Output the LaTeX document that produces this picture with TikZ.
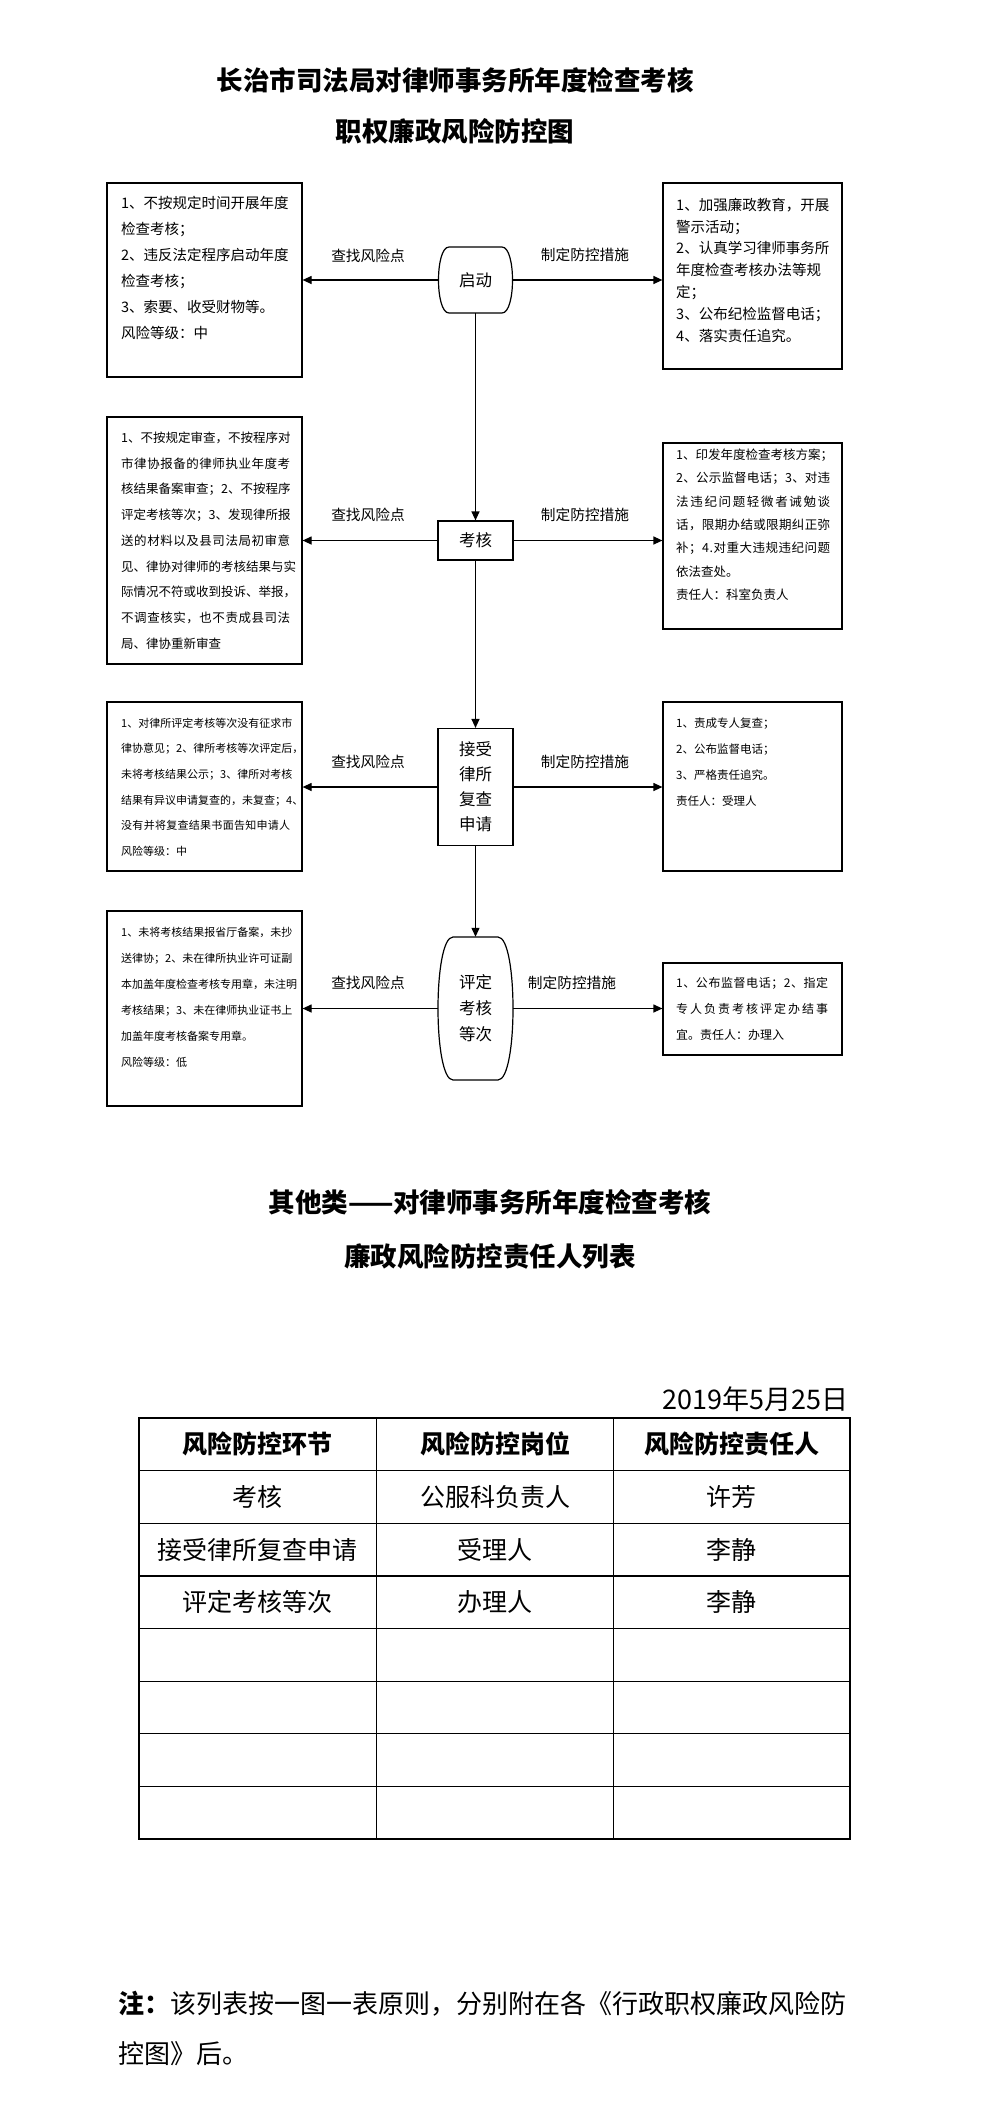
\documentclass[tikz,border=0pt]{standalone}
\usepackage{fontspec}
\setmainfont{Noto Sans CJK SC}
\usetikzlibrary{arrows.meta}
\def\sprdA#1{#1\sprdB}
\def\sprdB#1{\ifx\relax#1\else\hfil#1\expandafter\sprdB\fi}
\newcommand\jl[2]{\leavevmode\hbox to #1{\sprdA#2\relax}}
\newcommand\myfs[2]{\fontsize{#1}{#2}\selectfont}
\tikzset{
  box/.style={draw, line width=1.2pt, inner sep=0pt, minimum width=#1},
  flowline/.style={line width=1.2pt},
  arr/.style={line width=1.2pt, -{Triangle[length=9pt,width=8pt]}},
  txtbox/.style={anchor=north west, inner sep=0pt, align=left},
  lbl/.style={inner sep=0pt, font=\myfs{14.7}{18}},
  flowtext/.style={inner sep=0pt, align=center, font=\myfs{16.5}{25}},
  title/.style={inner sep=0pt, font=\myfs{26.5}{30}\bfseries},
  cell/.style={inner sep=0pt, font=\myfs{25}{28}},
  hcell/.style={inner sep=0pt, font=\myfs{25}{28}\bfseries},
}
\begin{document}
\begin{tikzpicture}[x=1pt,y=-1pt]
\useasboundingbox[fill=white] (0,0) rectangle (993,2101);

% titles
\node[title] (t1) at (455,80) {长治市司法局对律师事务所年度检查考核};
\node[title] (t2) at (455,131) {职权廉政风险防控图};

% left boxes
\node[box=195pt, minimum height=194pt] (L1) at (204.5,280) {};
\node[box=195pt, minimum height=247pt] (L2) at (204.5,540.5) {};
\node[box=195pt, minimum height=169pt] (L3) at (204.5,786.5) {};
\node[box=195pt, minimum height=195pt] (L4) at (204.5,1008.5) {};
% right boxes
\node[box=179pt, minimum height=186pt] (R1) at (752.5,276) {};
\node[box=179pt, minimum height=186pt] (R2) at (752.5,536) {};
\node[box=179pt, minimum height=169pt] (R3) at (752.5,786.5) {};
\node[box=179pt, minimum height=92pt] (R4) at (752.5,1009) {};

% box texts
\node[txtbox, text width=175pt, font=\myfs{14.5}{26}] (L1t) at (121,195.75) {1、不按规定时间开展年度\\检查考核；\\2、违反法定程序启动年度\\检查考核；\\3、索要、收受财物等。\\风险等级：中};
\node[txtbox, text width=160pt, font=\myfs{14.5}{21.8}] (R1t) at (676,197.75) {1、加强廉政教育，开展\\警示活动；\\2、认真学习律师事务所\\年度检查考核办法等规\\定；\\3、公布纪检监督电话；\\4、落实责任追究。};
\node[txtbox, text width=175pt, font=\myfs{12.5}{25.7}] (L2t) at (121,431.75) {\jl{169pt}{1、不按规定审查，不按程序对}\\\jl{169pt}{市律协报备的律师执业年度考}\\\jl{169pt}{核结果备案审查；2、不按程序}\\\jl{169pt}{评定考核等次；3、发现律所报}\\\jl{169pt}{送的材料以及县司法局初审意}\\\jl{169pt}{见、律协对律师的考核结果与实}\\\jl{169pt}{际情况不符或收到投诉、举报，}\\\jl{169pt}{不调查核实，也不责成县司法}\\局、律协重新审查};
\node[txtbox, text width=160pt, font=\myfs{12.5}{23.3}] (R2t) at (676,448.75) {\jl{154pt}{1、印发年度检查考核方案；}\\\jl{154pt}{2、公示监督电话；3、对违}\\\jl{154pt}{法违纪问题轻微者诫勉谈}\\\jl{154pt}{话，限期办结或限期纠正弥}\\\jl{154pt}{补；4.对重大违规违纪问题}\\依法查处。\\责任人：科室负责人};
\node[txtbox, text width=175pt, font=\myfs{11}{25.7}] (L3t) at (121,717.5) {\jl{169pt}{1、对律所评定考核等次没有征求市}\\\jl{169pt}{律协意见；2、律所考核等次评定后，}\\\jl{169pt}{未将考核结果公示；3、律所对考核}\\\jl{169pt}{结果有异议申请复查的，未复查；4、}\\\jl{169pt}{没有并将复查结果书面告知申请人}\\风险等级：中};
\node[txtbox, text width=160pt, font=\myfs{11.5}{26}] (R3t) at (676,717.25) {1、责成专人复查；\\2、公布监督电话；\\3、严格责任追究。\\责任人：受理人};
\node[txtbox, text width=175pt, font=\myfs{11}{26}] (L4t) at (121,926.5) {\jl{169pt}{1、未将考核结果报省厅备案，未抄}\\\jl{169pt}{送律协；2、未在律所执业许可证副}\\\jl{169pt}{本加盖年度检查考核专用章，未注明}\\\jl{169pt}{考核结果；3、未在律师执业证书上}\\加盖年度考核备案专用章。\\风险等级：低};
\node[txtbox, text width=160pt, font=\myfs{12}{26}] (R4t) at (676,977) {\jl{152pt}{1、公布监督电话；2、指定}\\\jl{152pt}{专人负责考核评定办结事}\\宜。责任人：办理入};

% flow nodes
\node[flowtext, minimum width=75pt, minimum height=66pt] (start) at (475.5,280) {启动};
\draw[flowline] (449,247) -- (502,247) .. controls (516,247) and (516,313) .. (502,313) -- (449,313) .. controls (435,313) and (435,247) .. (449,247) -- cycle;
\node[flowtext, draw, line width=1.2pt, minimum width=75pt, minimum height=39pt] (kh) at (475.5,540.5) {考核};
\node[flowtext, draw, line width=1.2pt, minimum width=75pt, minimum height=117pt] (js) at (475.5,787) {接受\\律所\\复查\\申请};
\node[flowtext, minimum width=75pt, minimum height=143pt, font=\myfs{16.5}{26}] (pd) at (475.5,1008.5) {评定\\考核\\等次};
\draw[flowline] (453,937) -- (498,937) .. controls (518,937) and (518,1080) .. (498,1080) -- (453,1080) .. controls (433,1080) and (433,937) .. (453,937) -- cycle;

% connectors
\draw[arr] (start.south) -- (kh.north);
\draw[arr] (kh.south) -- (js.north);
\draw[arr] (js.south) -- (pd.north);

\draw[arr] (start.west) -- (start.west -| L1.east);
\draw[arr] (start.east) -- (start.east -| R1.west);
\draw[arr] (kh.west) -- (kh.west -| L2.east);
\draw[arr] (kh.east) -- (kh.east -| R2.west);
\draw[arr] (js.west) -- (js.west -| L3.east);
\draw[arr] (js.east) -- (js.east -| R3.west);
\draw[arr] (pd.west) -- (pd.west -| L4.east);
\draw[arr] (pd.east) -- (pd.east -| R4.west);

% labels
\node[lbl] (a1) at (368,256) {查找风险点};
\node[lbl] (b1) at (585,255) {制定防控措施};
\node[lbl] (a2) at (368,515) {查找风险点};
\node[lbl] (b2) at (585,515) {制定防控措施};
\node[lbl] (a3) at (368,762) {查找风险点};
\node[lbl] (b3) at (585,762) {制定防控措施};
\node[lbl] (a4) at (368,983) {查找风险点};
\node[lbl] (b4) at (572,983) {制定防控措施};

% second part
\node[title] (t3) at (490,1202) {其他类——对律师事务所年度检查考核};
\node[title] (t4) at (490,1256) {廉政风险防控责任人列表};
\node[inner sep=0pt, anchor=east, font=\myfs{27}{30}] (date) at (849,1399) {2019年5月25日};

% table grid
\draw[line width=1.3pt] (139,1418) rectangle (850,1839);
\foreach \yy in {1470.6,1523.3,1575.9,1628.5,1681.2,1733.8,1786.4} {
  \draw[line width=1.2pt] (139,\yy) -- (850,\yy);
}
\draw[line width=1.2pt] (376.5,1418) -- (376.5,1839);
\draw[line width=1.2pt] (613.7,1418) -- (613.7,1839);

\node[hcell] (h1) at (257.8,1444.3) {风险防控环节};
\node[hcell] (h2) at (495.1,1444.3) {风险防控岗位};
\node[hcell] (h3) at (731.9,1444.3) {风险防控责任人};
\node[cell] (c11) at (257.8,1497) {考核};
\node[cell] (c12) at (495.1,1497) {公服科负责人};
\node[cell] (c13) at (731.9,1497) {许芳};
\node[cell] (c21) at (257.8,1549.6) {接受律所复查申请};
\node[cell] (c22) at (495.1,1549.6) {受理人};
\node[cell] (c23) at (731.9,1549.6) {李静};
\node[cell] (c31) at (257.8,1602.2) {评定考核等次};
\node[cell] (c32) at (495.1,1602.2) {办理人};
\node[cell] (c33) at (731.9,1602.2) {李静};

% note
\node[inner sep=0pt, anchor=west, font=\myfs{26}{30}] (n1) at (118,2004) {{\bfseries 注：}该列表按一图一表原则，分别附在各《行政职权廉政风险防};
\node[inner sep=0pt, anchor=west, font=\myfs{26}{30}] (n2) at (118,2054) {控图》后。};
\end{tikzpicture}
\end{document}
